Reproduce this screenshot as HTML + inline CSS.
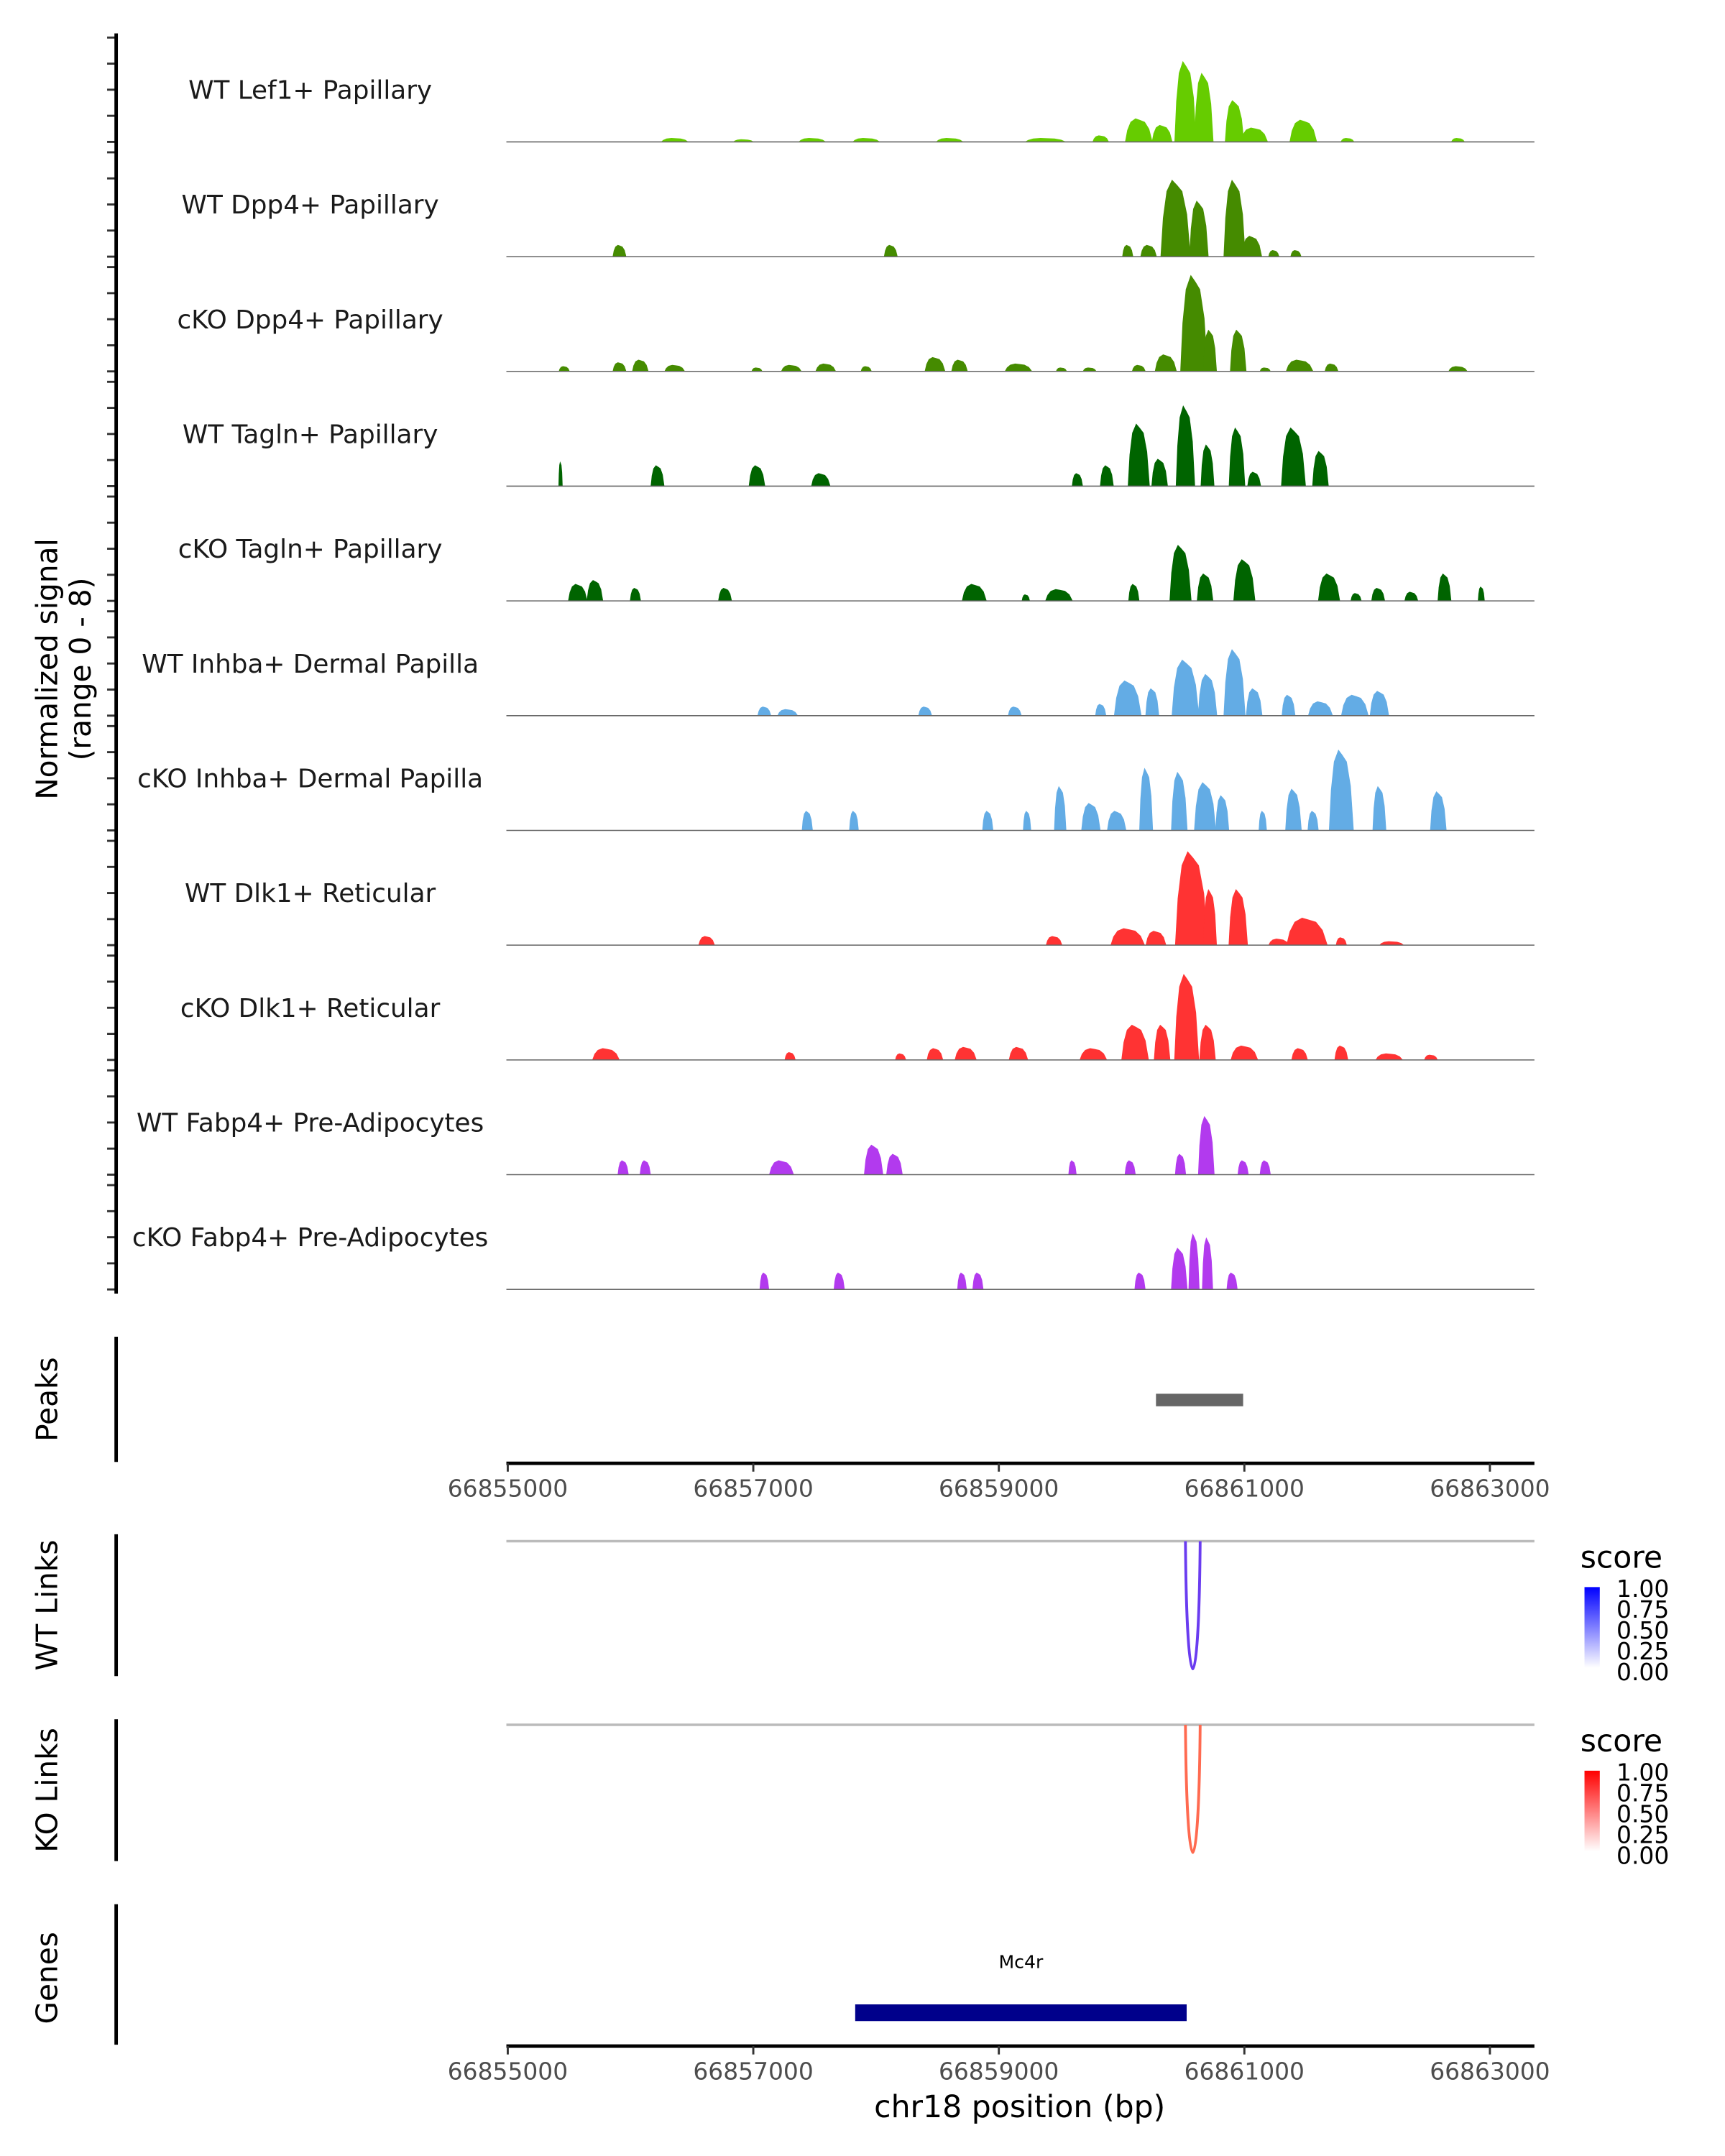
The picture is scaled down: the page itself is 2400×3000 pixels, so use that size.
<!DOCTYPE html>
<html><head><meta charset="utf-8"><style>
html,body{margin:0;padding:0;background:#fff;}
svg{display:block;font-family:"DejaVu Sans","Liberation Sans",sans-serif;}
</style></head><body>
<svg id="chart" width="2400" height="3000" viewBox="0 0 1240 1550" xmlns="http://www.w3.org/2000/svg">
<defs>
<linearGradient id="gb" x1="0" y1="1" x2="0" y2="0"><stop offset="0" stop-color="#fff"/><stop offset="1" stop-color="#0000ff"/></linearGradient>
<linearGradient id="gr" x1="0" y1="1" x2="0" y2="0"><stop offset="0" stop-color="#fff"/><stop offset="1" stop-color="#ff0000"/></linearGradient>
</defs>
<g id="tracks"></g>
<g id="axes"></g>
</svg>
<script>
const trackNames = ["WT Lef1+ Papillary","WT Dpp4+ Papillary","cKO Dpp4+ Papillary","WT Tagln+ Papillary","cKO Tagln+ Papillary","WT Inhba+ Dermal Papilla","cKO Inhba+ Dermal Papilla","WT Dlk1+ Reticular","cKO Dlk1+ Reticular","WT Fabp4+ Pre-Adipocytes","cKO Fabp4+ Pre-Adipocytes"];
const trackColors = ["#66cc00","#458b00","#458b00","#006400","#006400","#63ace5","#63ace5","#ff3333","#ff3333","#b23aee","#b23aee"];
// peak positions (kb from 66855000), heights (signal 0-8), widths (bp)
const peakPos = [
 [1.36,1.92,2.48,2.92,3.60,4.38,4.83,5.14,5.33,5.52,5.67,5.92,6.08,6.48,6.84,7.74],
 [0.91,3.12,5.05,5.22,5.44,5.63,5.92,6.06,6.24,6.42],
 [0.46,0.91,1.08,1.36,2.03,2.31,2.59,2.92,3.48,3.68,4.16,4.51,4.74,5.14,5.36,5.59,5.72,5.95,6.17,6.45,6.71,7.74],
 [0.43,1.22,2.03,2.55,4.64,4.88,5.14,5.31,5.52,5.70,5.94,6.08,6.40,6.62],
 [0.57,0.71,1.04,1.77,3.80,4.22,4.49,5.10,5.48,5.68,6.00,6.69,6.91,7.09,7.36,7.63,7.93],
 [2.09,2.28,3.40,4.13,4.83,5.05,5.25,5.52,5.70,5.92,6.08,6.36,6.62,6.90,7.10],
 [2.44,2.82,3.91,4.23,4.50,4.75,4.96,5.20,5.47,5.68,5.82,6.15,6.40,6.56,6.79,7.10,7.58],
 [1.62,4.45,5.05,5.28,5.57,5.72,5.95,6.28,6.51,6.79,7.20],
 [0.80,2.30,3.20,3.48,3.73,4.16,4.77,5.11,5.33,5.53,5.70,6.00,6.45,6.79,7.18,7.52],
 [0.94,1.12,2.23,2.98,3.15,4.60,5.07,5.48,5.69,5.99,6.17],
 [2.09,2.70,3.70,3.83,5.15,5.47,5.59,5.70,5.90]
];
const peakHeight = [
 [0.3,0.2,0.3,0.3,0.3,0.3,0.5,1.8,1.3,6.2,5.3,3.2,1.1,1.7,0.3,0.3],
 [0.9,0.9,0.9,0.9,5.9,4.3,5.9,1.6,0.5,0.5],
 [0.4,0.7,0.9,0.5,0.3,0.5,0.6,0.4,1.1,0.9,0.6,0.3,0.3,0.5,1.3,7.4,3.2,3.2,0.3,0.9,0.6,0.4],
 [1.9,1.6,1.6,1.0,1.0,1.6,4.8,2.1,6.2,3.2,4.5,1.1,4.5,2.7],
 [1.3,1.6,1.0,1.0,1.3,0.5,0.9,1.3,4.3,2.1,3.2,2.1,0.6,1.0,0.7,2.1,1.1],
 [0.7,0.5,0.7,0.7,0.9,2.7,2.1,4.3,3.2,5.1,2.1,1.6,1.1,1.6,1.9],
 [1.5,1.5,1.5,1.5,3.4,2.1,1.5,4.8,4.5,3.7,2.7,1.5,3.2,1.5,6.2,3.4,3.0],
 [0.7,0.7,1.3,1.1,7.2,4.3,4.3,0.5,2.1,0.6,0.3],
 [0.9,0.6,0.5,0.9,1.0,1.0,0.9,2.7,2.7,6.6,2.7,1.1,0.9,1.1,0.5,0.4],
 [1.1,1.1,1.1,2.3,1.6,1.1,1.1,1.6,4.5,1.1,1.1],
 [1.3,1.3,1.3,1.3,1.3,3.2,4.3,4.0,1.3]
];
const peakWidth = [
 [224,168,224,224,224,336,134,224,168,179,157,157,224,224,112,112],
 [112,112,90,134,246,157,179,168,90,90],
 [90,112,134,168,90,168,168,90,168,134,224,90,112,112,179,224,112,134,90,224,112,157],
 [34,112,134,157,90,112,179,134,157,112,134,112,202,134],
 [157,134,90,112,202,67,224,90,179,134,179,179,90,112,112,112,56],
 [112,168,112,112,90,224,112,224,157,179,134,112,202,224,157],
 [90,78,90,67,100,157,157,112,134,179,112,67,134,90,202,112,134],
 [134,134,280,168,269,112,157,168,336,90,202],
 [224,90,90,134,179,157,224,224,134,202,134,224,134,112,224,112],
 [90,90,202,157,134,67,90,90,134,90,90],
 [78,90,78,90,90,134,90,90,90]
];
const xStart = 66855000, xTicks = [66855000,66857000,66859000,66861000,66863000];
const yMax = 8;
const peakRegion = [66860280, 66860990];
const linkWT = [66860520, 66860640];
const linkKO = [66860520, 66860640];
const linkScoreWT = 0.72, linkScoreKO = 0.72;
const geneSpan = [66857830, 66860530];
const legendTicks = ["1.00","0.75","0.50","0.25","0.00"];

const NS="http://www.w3.org/2000/svg";
const X0=365, PXBP=706/8000, LEFT=364, RIGHT=1103;
function xs(bp){return X0+(bp-xStart)*PXBP;}
const TRACK_H=75, TRACK_STEP=82.5, TOP0=27;
function el(tag,attrs,parent,text){const e=document.createElementNS(NS,tag);for(const k in attrs)e.setAttribute(k,attrs[k]);if(text!==undefined)e.textContent=text;parent.appendChild(e);return e;}
const tracks=document.getElementById('tracks'), axes=document.getElementById('axes');

for(let t=0;t<trackNames.length;t++){
  const top=TOP0+t*TRACK_STEP, base=top+TRACK_H;
  const ys=v=>base-v/yMax*TRACK_H;
  const g=el('g',{},tracks);
  
  
  for(let i=0;i<peakPos[t].length;i++){
    const c=xs(xStart+peakPos[t][i]*1000), w=peakWidth[t][i]*PXBP, h=peakHeight[t][i];
    const pts=[[c-w/2,0],[c-w*0.42,h*0.5],[c-w*0.3,h*0.85],[c-w*0.12,h],[c+w*0.05,h*0.93],[c+w*0.22,h*0.85],[c+w*0.38,h*0.55],[c+w/2,0]];
    const p=el('polygon',{points:pts.map(q=>q[0].toFixed(2)+','+ys(q[1]).toFixed(2)).join(' '),fill:trackColors[t]},g);
    
    
  }
  const bl=el('line',{x1:LEFT,x2:RIGHT,y1:base,y2:base,stroke:'#666','stroke-width':0.8},g);
  
  
  const lb=el('text',{x:223,y:top+44,'text-anchor':'middle','font-size':18.5,fill:'#1a1a1a'},g,trackNames[t]);
  
  
  for(let k=0;k<=4;k++){
    const yy=top+k*TRACK_H/4;
    const tk=el('line',{x1:77,x2:83,y1:yy,y2:yy,stroke:'#333','stroke-width':1.5},axes);
    
    
  }
}
function vaxis(y1,y2,label,cy){
  const l=el('line',{x1:83.5,x2:83.5,y1:y1,y2:y2,stroke:'#000','stroke-width':2.5},axes);
  
  
  if(label){
    const tx=el('text',{x:0,y:0,transform:`translate(41,${cy}) rotate(-90)`,'text-anchor':'middle','font-size':21,fill:'#000'},axes,label);
    
    
  }
}
vaxis(24,930,null,0);
let yt=el('text',{transform:'translate(41,481) rotate(-90)','text-anchor':'middle','font-size':21},axes,'Normalized signal');


yt=el('text',{transform:'translate(65,481) rotate(-90)','text-anchor':'middle','font-size':21},axes,'(range 0 - 8)');


vaxis(961,1051,'Peaks',1006);
const pk=el('rect',{x:xs(peakRegion[0]),y:1002,width:xs(peakRegion[1])-xs(peakRegion[0]),height:9,fill:'#666'},axes);


function xaxis(y){
  const l=el('line',{x1:LEFT,x2:RIGHT,y1:y,y2:y,stroke:'#000','stroke-width':2.5},axes);
  
  
  xTicks.forEach(v=>{
    const t=el('line',{x1:xs(v),x2:xs(v),y1:y,y2:y+6,stroke:'#333','stroke-width':1.5},axes);
    
    
    const tl=el('text',{x:xs(v),y:y+24,'text-anchor':'middle','font-size':17,fill:'#4d4d4d'},axes,String(v));
    
    
  });
}
xaxis(1052);
function links(y0,axisTop,axisBot,label,pair,score,col,grad){
  vaxis(axisTop,axisBot,label,(axisTop+axisBot)/2);
  const l=el('line',{x1:LEFT,x2:RIGHT,y1:y0,y2:y0,stroke:'#bbb','stroke-width':1.8},axes);
  
  
  const a=xs(pair[0]),b=xs(pair[1]),d=score*170;
  const p=el('path',{d:`M${a},${y0} C${a+1},${y0+d} ${b-1},${y0+d} ${b},${y0}`,fill:'none',stroke:col,'stroke-width':2},axes);
  
  
  const lg=el('text',{x:1136,y:y0+19,'font-size':22},axes,'score');
  
  
  const r=el('rect',{x:1139,y:y0+33,width:11,height:58,fill:`url(#${grad})`},axes);
  
  
  legendTicks.forEach((s,i)=>{
    const tl=el('text',{x:1162,y:y0+40+i*15,'font-size':17},axes,s);
    
    
  });
}
links(1108,1103,1205,'WT Links',linkWT,linkScoreWT,'#6a3cf0','gb');
links(1240,1236,1338,'KO Links',linkKO,linkScoreKO,'#ff6a50','gr');
vaxis(1369,1470,'Genes',1422);
const gn=el('text',{x:(xs(geneSpan[0])+xs(geneSpan[1]))/2,y:1415,'text-anchor':'middle','font-size':13},axes,'Mc4r');


const gr=el('rect',{x:xs(geneSpan[0]),y:1441,width:xs(geneSpan[1])-xs(geneSpan[0]),height:12,fill:'#00008b'},axes);


xaxis(1471);
const xt=el('text',{x:733,y:1522,'text-anchor':'middle','font-size':22},axes,'chr18 position (bp)');


</script>
</body></html>
